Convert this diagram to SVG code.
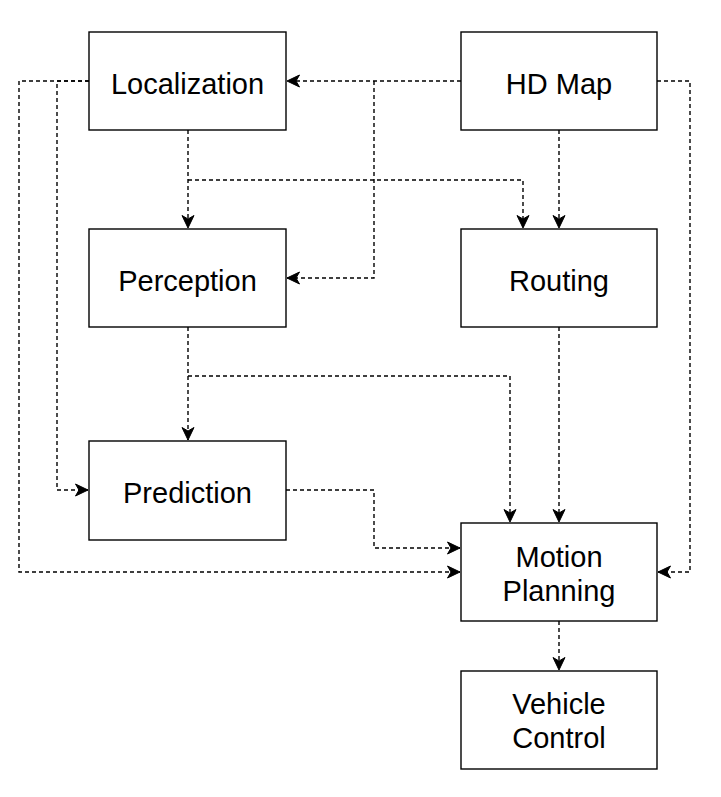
<svg xmlns="http://www.w3.org/2000/svg" width="721" height="797" viewBox="0 0 721 797">
<style>
.box{fill:#fff;stroke:#000;stroke-width:1.4}
.lbl{font-family:"Liberation Sans",Arial,sans-serif;font-size:29px;fill:#000;text-anchor:middle}
.c{fill:none;stroke:#000;stroke-width:1.4;stroke-dasharray:4 3}
.ah{fill:#000;stroke:#000;stroke-width:1;stroke-dasharray:none}
</style>
<defs>
<marker id="a" markerWidth="18" markerHeight="18" refX="14" refY="8" orient="auto" markerUnits="userSpaceOnUse" overflow="visible">
<path class="ah" d="M1.5,2 L14,8 L1.5,14 L5,8 z"/>
</marker>
</defs>
<rect width="721" height="797" fill="#fff"/>
<g id="connectors">
<path class="c" d="M461,81 H287" marker-end="url(#a)"/>
<path class="c" d="M374,81 V278 H287" marker-end="url(#a)"/>
<path class="c" d="M188,130 V228" marker-end="url(#a)"/>
<path class="c" d="M188,180 H523 V228" marker-end="url(#a)"/>
<path class="c" d="M559,130 V228" marker-end="url(#a)"/>
<path class="c" d="M657,81 H690 V572 H658" marker-end="url(#a)"/>
<path class="c" d="M89,81 H19 V572 H460" marker-end="url(#a)"/>
<path class="c" d="M89,81 H57 V490 H88" marker-end="url(#a)"/>
<path class="c" d="M188,327 V440" marker-end="url(#a)"/>
<path class="c" d="M188,376 H510 V522" marker-end="url(#a)"/>
<path class="c" d="M286,490 H374 V548 H460" marker-end="url(#a)"/>
<path class="c" d="M559,327 V522" marker-end="url(#a)"/>
<path class="c" d="M559,621 V670" marker-end="url(#a)"/>
</g>
<g id="localization"><rect class="box" x="89" y="32" width="197" height="98"/><text class="lbl" x="187.5" y="93.5">Localization</text></g>
<g id="hdmap"><rect class="box" x="461" y="32" width="196" height="98"/><text class="lbl" x="559" y="93.5">HD Map</text></g>
<g id="perception"><rect class="box" x="89" y="229" width="197" height="98"/><text class="lbl" x="187.5" y="290.5">Perception</text></g>
<g id="routing"><rect class="box" x="461" y="229" width="196" height="98"/><text class="lbl" x="559" y="290.5">Routing</text></g>
<g id="prediction"><rect class="box" x="89" y="441" width="197" height="99"/><text class="lbl" x="187.5" y="502.5">Prediction</text></g>
<g id="motionplanning"><rect class="box" x="461" y="523" width="196" height="98"/><text class="lbl" x="559" y="567">Motion</text><text class="lbl" x="559" y="601">Planning</text></g>
<g id="vehiclecontrol"><rect class="box" x="461" y="671" width="196" height="98"/><text class="lbl" x="559" y="714">Vehicle</text><text class="lbl" x="559" y="748">Control</text></g>
</svg>
